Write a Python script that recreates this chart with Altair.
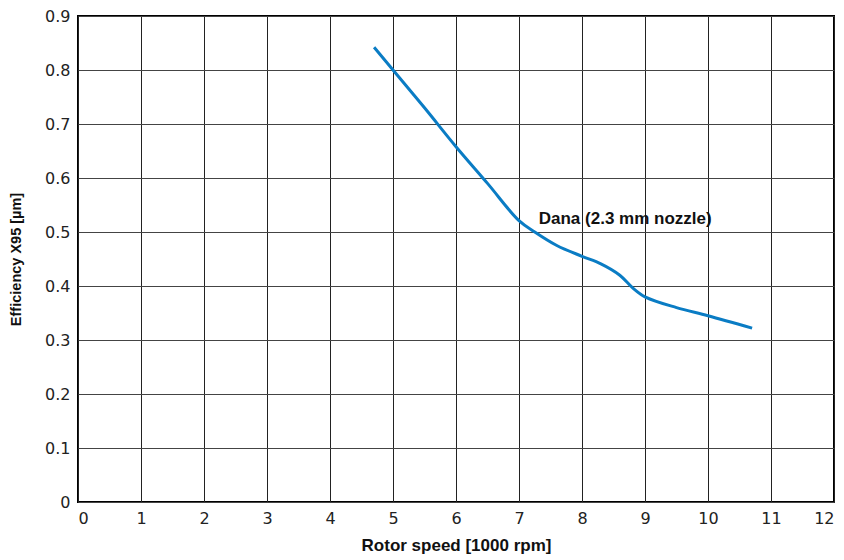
import altair as alt
import pandas as pd

speed = [4.7, 5.0, 5.5, 6.0, 6.5, 7.0, 7.25, 7.6, 8.0, 8.3, 8.6, 8.8, 9.0, 9.5, 10.0, 10.7]
eff = [0.842, 0.80, 0.73, 0.658, 0.59, 0.521, 0.50, 0.475, 0.455, 0.441, 0.42, 0.397, 0.38, 0.36, 0.345, 0.322]
label_text = ["Dana (2.3 mm nozzle)"]
label_x = [7.25]
label_y = [0.525]

df = pd.DataFrame({"speed": speed, "eff": eff})
lab = pd.DataFrame({"x": label_x, "y": label_y, "t": label_text})

FONT = "DejaVu Sans"
TFONT = "Liberation Sans"

xs = alt.Scale(domain=[0, 12], nice=False, zero=False)
ys = alt.Scale(domain=[0, 0.9], nice=False, zero=False)

line = alt.Chart(df).mark_line(color="#0a7cc4", strokeWidth=3, interpolate="catmull-rom").encode(
    x=alt.X("speed:Q", scale=xs, axis=alt.Axis(
        title="Rotor speed [1000 rpm]", values=list(range(0, 13)), format="d",
        grid=True, gridColor="#222", gridWidth=1, gridOpacity=1,
        ticks=False, domain=False, labelPadding=8,
        labelFont=FONT, labelFontSize=16, labelColor="#222",
        titleFont=TFONT, titleFontSize=17, titleFontWeight="bold", titleColor="#111",
        titleY=52, titleBaseline="bottom")),
    y=alt.Y("eff:Q", scale=ys, axis=alt.Axis(
        title="Efficiency X95 [µm]", values=[round(i * 0.1, 1) for i in range(10)],
        labelExpr="datum.value == 0 ? '0' : format(datum.value, '.1f')",
        grid=True, gridColor="#444", gridWidth=1, gridOpacity=1,
        ticks=False, domain=False, labelPadding=8,
        labelFont=FONT, labelFontSize=16, labelColor="#222",
        titleFont=TFONT, titleFontSize=14.5, titleFontWeight="bold", titleColor="#111",
        titleX=-62, titleY=243, titleAngle=-90, titleAlign="center", titleBaseline="middle")),
)

text = alt.Chart(lab).mark_text(align="left", baseline="alphabetic", font=TFONT, fontSize=17,
                                fontWeight="bold", color="#111", dx=4, dy=5).encode(
    x=alt.X("x:Q", scale=xs), y=alt.Y("y:Q", scale=ys), text="t:N")

chart = (line + text).properties(
    width=756, height=486,
    autosize=alt.AutoSizeParams(type="none"),
    padding={"left": 78, "top": 16, "right": 10, "bottom": 58},
    background="white",
).configure_view(stroke="black", strokeWidth=2)

chart.save("out.html", embed_options={"renderer": "svg", "actions": False})
